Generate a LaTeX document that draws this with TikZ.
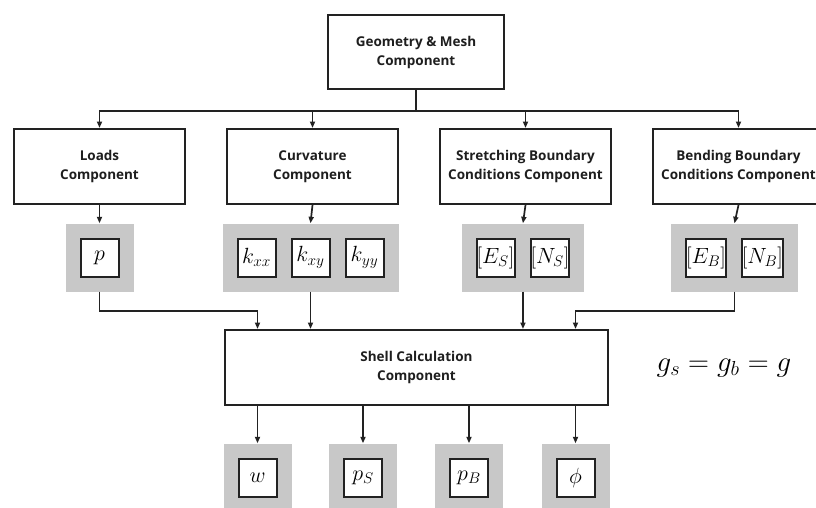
\RequirePackage{fix-cm}
\documentclass[tikz,border=0pt]{standalone}
\usepackage{fontspec}
\setsansfont{Open Sans}
\usepackage{amsmath}
\usetikzlibrary{arrows.meta,backgrounds,fit,positioning}
\definecolor{frame}{HTML}{222222}
\definecolor{panel}{HTML}{C8C8C8}
\definecolor{ink}{HTML}{1E1E1E}

\begin{document}
\begin{tikzpicture}[x=1pt,y=-1pt,>={Triangle[length=6.5pt,width=5pt]},line width=1.7pt,draw=frame,node distance=40pt]
    \tikzstyle{cbox}=[draw=frame,line width=2pt,fill=white,minimum width=171pt,minimum height=75pt,align=center,text=ink,font=\sffamily\bfseries\fontsize{13.5}{19}\selectfont]
    \tikzstyle{vbox}=[draw=frame,line width=2pt,fill=white,minimum size=38pt,inner sep=0pt,font=\fontsize{22}{22}\selectfont]
    \tikzstyle{grp}=[fill=panel,inner sep=14pt]
    \useasboundingbox (0,0) rectangle (816,507);
    % components
    \node[cbox,minimum width=176pt,minimum height=74pt] (geo) at (416,52) {Geometry \& Mesh\\ Component};
    \node[cbox] (loads) at (99.5,166.5) {Loads\\ Component};
    \node[cbox,right=of loads] (curv) {Curvature\\ Component};
    \node[cbox,right=of curv] (stretch) {Stretching Boundary\\ Conditions Component};
    \node[cbox,right=of stretch] (bend) {Bending Boundary\\ Conditions Component};
    \node[cbox,minimum width=383pt] (shell) at (416.5,367.5) {Shell Calculation\\ Component};
    % variables
    \node[vbox] (p) at (99.5,257.5) {$p$};
    \node[vbox] (kxy) at (310.5,257.5) {$k_{xy}$};
    \node[vbox,left=14pt of kxy] (kxx) {$k_{xx}$};
    \node[vbox,right=14pt of kxy] (kyy) {$k_{yy}$};
    \node[vbox] (es) at (495.5,257.5) {$[E_S]$};
    \node[vbox,right=14pt of es] (ns) {$[N_S]$};
    \node[vbox] (eb) at (706,257.5) {$[E_B]$};
    \node[vbox,right=14pt of eb] (nb) {$[N_B]$};
    \node[vbox] (w) at (257.5,477.5) {$w$};
    \node[vbox] (ps) at (363,477.5) {$p_S$};
    \node[vbox] (pb) at (469,477.5) {$p_B$};
    \node[vbox] (phi) at (575.5,477.5) {$\phi$};
    \begin{scope}[on background layer]
      \node[grp,fit=(p)] (pgrp) {};
      \node[grp,fit=(kxx)(kyy)] (kgrp) {};
      \node[grp,fit=(es)(ns)] (sgrp) {};
      \node[grp,fit=(eb)(nb)] (bgrp) {};
      \node[grp,fit=(w)] (wgrp) {};
      \node[grp,fit=(ps)] (psgrp) {};
      \node[grp,fit=(pb)] (pbgrp) {};
      \node[grp,fit=(phi)] (phigrp) {};
    \end{scope}
    \node[font=\fontsize{29}{29}\selectfont] (eq) at (724,368) {$g_s = g_b = g$};
    % connectors
    \foreach \c in {loads,curv,stretch,bend}
      \draw[->] (geo.south) -- ++(0,21) -| (\c.north);
    \draw[->] (loads.south) -- (pgrp.north);
    \draw[->] (curv.south) -- (kgrp.north);
    \draw[->] (stretch.south) -- (sgrp.north);
    \draw[->] (bend.south) -- (bgrp.north);
    \draw[->] (pgrp.south) -- ++(0,19) -| (shell.north -| wgrp);
    \draw[->] (kgrp.south) -- (kgrp.south |- shell.north);
    \draw[->] (sgrp.south) -- (sgrp.south |- shell.north);
    \draw[->] (bgrp.south) -- ++(0,19) -| (shell.north -| phigrp);
    \foreach \v in {wgrp,psgrp,pbgrp,phigrp}
      \draw[->] (shell.south -| \v) -- (\v.north);
  \end{tikzpicture}
\end{document}
